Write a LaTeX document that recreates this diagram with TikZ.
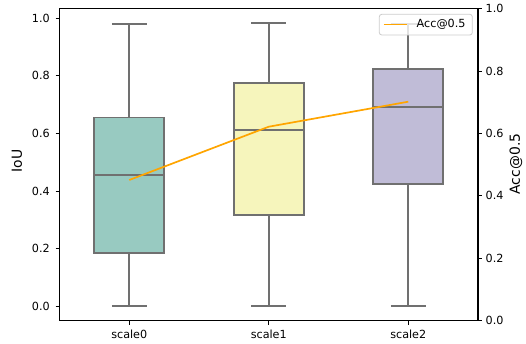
\documentclass[tikz,border=0pt]{standalone}
\usepackage{fontspec}
\setmainfont{DejaVu Sans}
\definecolor{boxA}{RGB}{152,202,193}
\definecolor{boxB}{RGB}{246,245,188}
\definecolor{boxC}{RGB}{192,188,215}
\definecolor{edgegray}{RGB}{112,112,112}
\definecolor{accline}{RGB}{255,165,0}
\begin{document}
\begin{tikzpicture}[x=1pt,y=-1pt,
  boxstyle/.style={draw=edgegray,line width=1.8pt},
  whisk/.style={draw=edgegray,line width=1.8pt},
  spine/.style={draw=black,line width=1.1pt},
  tickmark/.style={draw=black,line width=1.1pt},
  ticklabel/.style={font=\fontsize{11.2}{13}\selectfont,inner sep=0pt},
  axislabel/.style={font=\fontsize{13.9}{16}\selectfont,inner sep=0pt},
  acc/.style={draw=accline,line width=1.7pt}]
\useasboundingbox (0,0) rectangle (526,343);

% box plots: Q1, Q3, median, whisker ends
\foreach \cx/\qa/\qb/\md/\hi/\col in {129.25/253.3/117.4/174.7/24.1/boxA,
                                       268.75/214.7/82.7/130.0/23.0/boxB,
                                       408.25/184.3/69.3/106.7/24.0/boxC}{
  \draw[whisk] (\cx,\qa) -- (\cx,306.3);
  \draw[whisk] (\cx,\qb) -- (\cx,\hi);
  \draw[whisk] (\cx-17.4,306.3) -- (\cx+17.4,306.3);
  \draw[whisk] (\cx-17.4,\hi) -- (\cx+17.4,\hi);
  \draw[boxstyle,fill=\col] (\cx-34.9,\qa) rectangle (\cx+34.9,\qb);
  \draw[whisk] (\cx-34.9,\md) -- (\cx+34.9,\md);
}

% axes frame
\draw[spine] (59.5,8.5) rectangle (478,320.7);

% left axis (IoU)
\foreach \v in {0.0,0.2,0.4,0.6,0.8,1.0}{
  \pgfmathsetmacro{\yy}{306.3-288*\v}
  \draw[tickmark] (55.5,\yy) -- (59.5,\yy);
  \node[ticklabel,anchor=east] at (50,\yy) {\v};
}
% right axis (Acc@0.5)
\foreach \v in {0.0,0.2,0.4,0.6,0.8,1.0}{
  \pgfmathsetmacro{\yy}{320.7-312*\v}
  \draw[tickmark] (478,\yy) -- (482,\yy);
  \node[ticklabel,anchor=west] at (485.5,\yy) {\v};
}
% x ticks
\foreach \cx/\lab in {129.25/scale0,268.75/scale1,408.25/scale2}{
  \draw[tickmark] (\cx,320.7) -- (\cx,324.7);
  \node[ticklabel,anchor=base] at (\cx,338) {\lab};
}

\node[axislabel,rotate=90] (ylab) at (17,161) {IoU};
\node[axislabel,rotate=90] (y2lab) at (516,164) {Acc@0.5};

% accuracy curve
\coordinate (p0) at (129.25,180);
\coordinate (p1) at (268.75,126.7);
\coordinate (p2) at (408.25,101.7);
\draw[acc] (p0) -- (p1) -- (p2);

% legend
\draw[draw=black!20,line width=0.8pt,fill=white,fill opacity=0.8,rounded corners=2.5pt]
  (379.3,14.3) rectangle (472.3,35);
\coordinate (l0) at (383.5,24.5);
\coordinate (l1) at (406.5,24.5);
\draw[acc] (l0) -- (l1);
\node[ticklabel,anchor=west] (legtext) at (416.5,24.5) {Acc@0.5};
\end{tikzpicture}
\end{document}
